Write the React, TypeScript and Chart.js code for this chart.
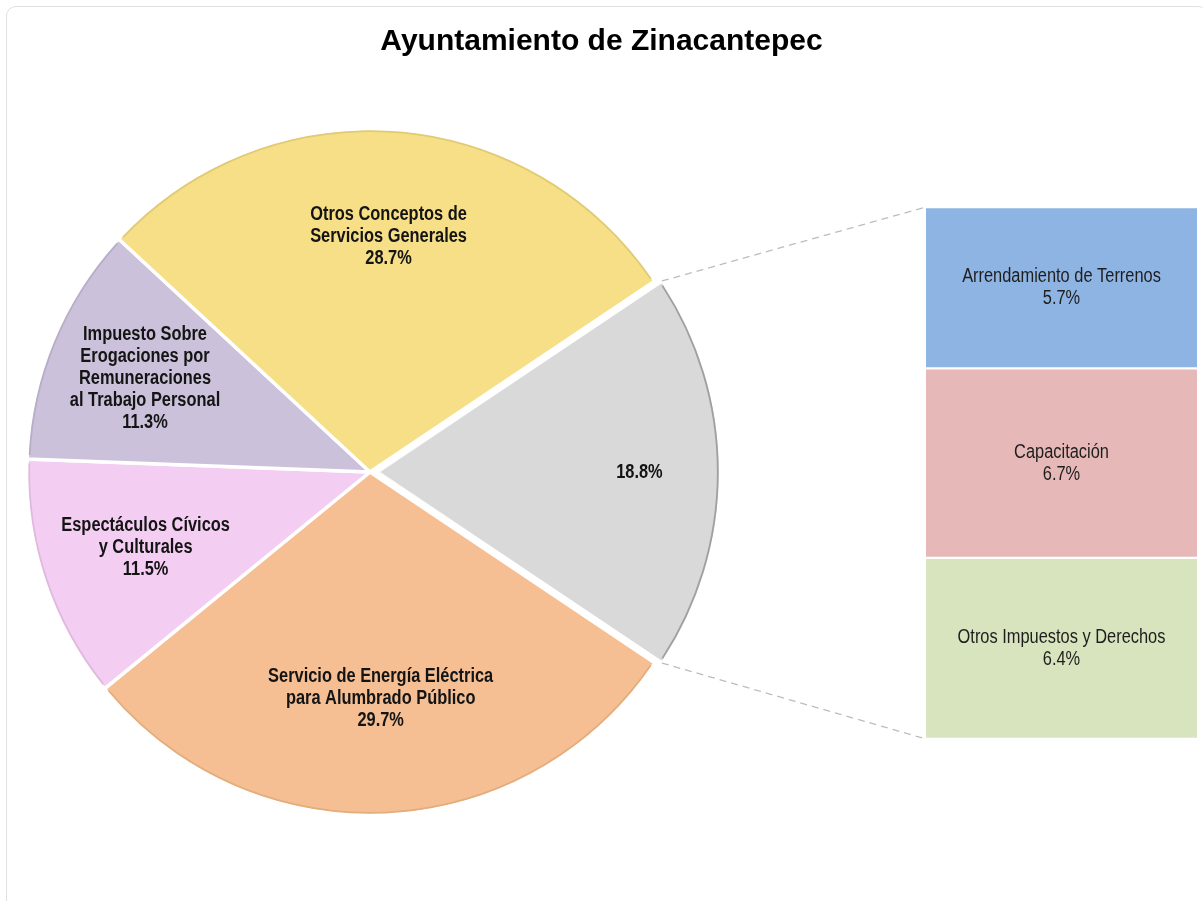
import React, { useEffect, useRef } from "react";
import { Chart, registerables } from "chart.js";

Chart.register(...registerables);

// ---------- data ----------
const chartTitle = "Ayuntamiento de Zinacantepec";

const pieCategories = [
  "Otros",
  "Servicio de Energía Eléctrica para Alumbrado Público",
  "Espectáculos Cívicos y Culturales",
  "Impuesto Sobre Erogaciones por Remuneraciones al Trabajo Personal",
  "Otros Conceptos de Servicios Generales",
];
const pieLabelLines: string[][] = [
  [],
  ["Servicio de Energía Eléctrica", "para Alumbrado Público"],
  ["Espectáculos Cívicos", "y Culturales"],
  ["Impuesto Sobre", "Erogaciones por", "Remuneraciones", "al Trabajo Personal"],
  ["Otros Conceptos de", "Servicios Generales"],
];
const pieValues = [18.8, 29.7, 11.5, 11.3, 28.7];

const barCategories = ["Otros Impuestos y Derechos", "Capacitación", "Arrendamiento de Terrenos"];
const barValues = [6.4, 6.7, 5.7];

// ---------- styles ----------
const pieColors = ["#D9D9D9", "#F5BF93", "#F4CEF2", "#CCC1DA", "#F6DF87"];
const pieRimColors = ["#a0a0a0", "#e3ad7c", "#e0bade", "#b8aec8", "#e0cb74"];
// Chart.js moves an arc by offset / 4 pixels
const pieOffsets = [28, 0, 0, 0, 0];
const pieLabelRadius = [0.765, 0.66, 0.69, 0.71, 0.69];
const barColors = ["#D7E4BD", "#E6B9B8", "#8EB4E3"];

const W = 1203;
const H = 901;
const SANS = '"Liberation Sans", Arial, Helvetica, sans-serif';
const CONDENSE = 0.82;

const pct = (v: number) => v.toFixed(1) + "%";

function condensedText(ctx: CanvasRenderingContext2D, text: string, x: number, y: number) {
  ctx.save();
  ctx.translate(x, y);
  ctx.scale(CONDENSE, 1);
  ctx.fillText(text, 0, 0);
  ctx.restore();
}

export default function App() {
  const pieCanvas = useRef<HTMLCanvasElement | null>(null);
  const barCanvas = useRef<HTMLCanvasElement | null>(null);

  useEffect(() => {
    if (!pieCanvas.current || !barCanvas.current) return;
    const total = pieValues.reduce((a, b) => a + b, 0);

    const pieLabelPlugin = {
      id: "pieLabels",
      afterDatasetsDraw(chart: any) {
        const ctx = chart.ctx;
        const meta = chart.getDatasetMeta(0);
        ctx.save();
        // subtle rim on each slice's outer edge
        meta.data.forEach((arc: any, i: number) => {
          const p = arc.getProps(["x", "y", "startAngle", "endAngle", "outerRadius"], true);
          const mid = (p.startAngle + p.endAngle) / 2;
          const d = pieOffsets[i] / 4;
          const ox = p.x + Math.cos(mid) * d;
          const oy = p.y + Math.sin(mid) * d;
          ctx.strokeStyle = pieRimColors[i];
          ctx.lineWidth = 1.8;
          ctx.beginPath();
          ctx.arc(ox, oy, p.outerRadius - 2.2, p.startAngle + 0.012, p.endAngle - 0.012);
          ctx.stroke();
        });
        ctx.fillStyle = "#141414";
        ctx.font = `bold 20px ${SANS}`;
        ctx.textAlign = "center";
        ctx.textBaseline = "middle";
        meta.data.forEach((arc: any, i: number) => {
          const p = arc.getProps(["x", "y", "startAngle", "endAngle", "outerRadius"], true);
          const mid = (p.startAngle + p.endAngle) / 2;
          const r = p.outerRadius * pieLabelRadius[i] + pieOffsets[i] / 4;
          const cx = p.x + Math.cos(mid) * r;
          const cy = p.y + Math.sin(mid) * r;
          const lines = [...pieLabelLines[i], pct(pieValues[i])];
          const lh = 22;
          const y0 = cy - ((lines.length - 1) * lh) / 2;
          lines.forEach((t, k) => condensedText(ctx, t, cx, y0 + k * lh));
        });
        ctx.restore();
      },
    };

    const pie = new Chart(pieCanvas.current, {
      type: "pie",
      data: {
        labels: pieCategories,
        datasets: [
          {
            data: pieValues,
            backgroundColor: pieColors,
            borderColor: "#ffffff",
            borderWidth: 3.5,
            offset: pieOffsets,
          },
        ],
      },
      options: {
        responsive: false,
        animation: false,
        rotation: 90 - (pieValues[0] / total) * 180,
        radius: 343,
        layout: { padding: { left: 20, right: W - 720, top: 122, bottom: H - 822 } },
        plugins: { legend: { display: false }, tooltip: { enabled: false }, title: { display: false } },
      } as any,
      plugins: [pieLabelPlugin],
    });

    const overlayPlugin = {
      id: "overlay",
      afterDatasetsDraw(chart: any) {
        const ctx = chart.ctx;
        ctx.save();
        // title
        ctx.fillStyle = "#000";
        ctx.font = `bold 30px ${SANS}`;
        ctx.textAlign = "center";
        ctx.textBaseline = "middle";
        ctx.fillText(chartTitle, W / 2, 42);

        // bar labels
        ctx.fillStyle = "#1e1e1e";
        ctx.font = `20px ${SANS}`;
        chart.data.datasets.forEach((ds: any, i: number) => {
          const el = chart.getDatasetMeta(i).data[0];
          const cy = (el.y + el.base) / 2;
          const lines = [barCategories[i], pct(barValues[i])];
          const lh = 22;
          const y0 = cy - ((lines.length - 1) * lh) / 2;
          lines.forEach((t, k) => condensedText(ctx, t, el.x, y0 + k * lh));
        });

        // connector lines from the exploded slice to the bar
        const arc: any = pie.getDatasetMeta(0).data[0];
        const p = arc.getProps(["x", "y", "startAngle", "endAngle", "outerRadius"], true);
        const mid = (p.startAngle + p.endAngle) / 2;
        const d = pieOffsets[0] / 4;
        const ox = p.x + Math.cos(mid) * d;
        const oy = p.y + Math.sin(mid) * d;
        const topEl: any = chart.getDatasetMeta(chart.data.datasets.length - 1).data[0];
        const botEl: any = chart.getDatasetMeta(0).data[0];
        const left = topEl.x - topEl.width / 2;
        ctx.strokeStyle = "#bdbdbd";
        ctx.lineWidth = 1.3;
        ctx.setLineDash([7, 5]);
        ctx.beginPath();
        ctx.moveTo(ox + Math.cos(p.startAngle) * p.outerRadius, oy + Math.sin(p.startAngle) * p.outerRadius);
        ctx.lineTo(left, topEl.y);
        ctx.moveTo(ox + Math.cos(p.endAngle) * p.outerRadius, oy + Math.sin(p.endAngle) * p.outerRadius);
        ctx.lineTo(left, botEl.base);
        ctx.stroke();
        ctx.restore();
      },
    };

    const bar = new Chart(barCanvas.current, {
      type: "bar",
      data: {
        labels: ["Otros"],
        datasets: barCategories.map((c, i) => ({
          label: c,
          data: [barValues[i]],
          backgroundColor: barColors[i],
          borderColor: "rgba(255,255,255,0.95)",
          borderWidth: { top: 1.5, bottom: 1.5, left: 0, right: 0 },
          borderSkipped: false,
          barPercentage: 1,
          categoryPercentage: 1,
        })),
      },
      options: {
        responsive: false,
        animation: false,
        layout: { padding: { left: 926, top: 207, right: W - 1197, bottom: H - 739 } },
        scales: {
          x: { stacked: true, display: false },
          y: { stacked: true, display: false, min: 0, max: barValues.reduce((a, b) => a + b, 0) },
        },
        plugins: { legend: { display: false }, tooltip: { enabled: false }, title: { display: false } },
      } as any,
      plugins: [overlayPlugin],
    });

    return () => {
      bar.destroy();
      pie.destroy();
    };
  }, []);

  return (
    <div
      style={{
        position: "absolute",
        left: 0,
        top: 0,
        width: W,
        height: H,
        overflow: "hidden",
        background: "#ffffff",
      }}
    >
      <div
        style={{
          position: "absolute",
          left: 6,
          top: 6,
          width: 1202,
          height: H + 20,
          border: "1px solid #e0e0e0",
          borderRadius: 10,
          boxSizing: "border-box",
        }}
      />
      <canvas
        ref={pieCanvas}
        width={W}
        height={H}
        style={{ position: "absolute", left: 0, top: 0, width: W, height: H }}
      />
      <canvas
        ref={barCanvas}
        width={W}
        height={H}
        style={{ position: "absolute", left: 0, top: 0, width: W, height: H }}
      />
    </div>
  );
}
